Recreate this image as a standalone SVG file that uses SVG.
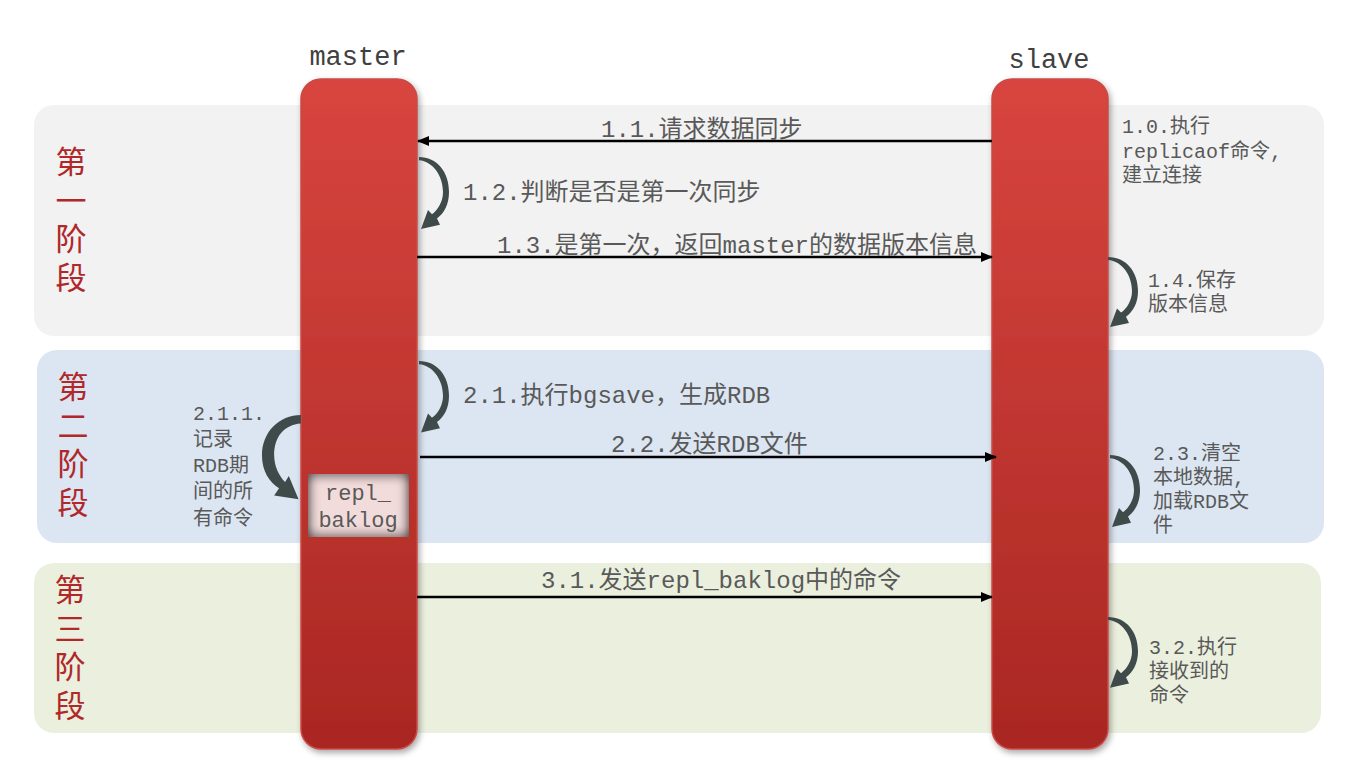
<svg xmlns="http://www.w3.org/2000/svg" width="1366" height="764" viewBox="0 0 1366 764">
<defs>
<style>
.band{stroke:none}
.phase{font-family:"Noto Sans CJK SC",sans-serif;font-size:31px;fill:#b0282a;writing-mode:vertical-rl;letter-spacing:7.5px}
.title{font-family:"Liberation Mono","Noto Sans CJK SC",monospace;font-size:27px;fill:#404040;text-anchor:middle}
.lbl{font-family:"Liberation Mono","Noto Sans CJK SC",monospace;font-size:24px;fill:#595959}
.note{font-family:"Liberation Mono","Noto Sans CJK SC",monospace;font-size:20px;fill:#595959}
.box{font-family:"Liberation Mono","Noto Sans CJK SC",monospace;font-size:22px;fill:#595959;text-anchor:middle}
.bar{fill:url(#barGrad);stroke:#c94a46;stroke-width:1.5;filter:url(#shadow)}
.conn{stroke:#000;stroke-width:2.5;fill:none}
.curve{fill:#3f4a4a}
</style>
<linearGradient id="barGrad" x1="0" y1="0" x2="0" y2="1">
<stop offset="0" stop-color="#d8453f"/>
<stop offset="1" stop-color="#a92722"/>
</linearGradient>
<filter id="shadow" x="-20%" y="-5%" width="140%" height="110%">
<feDropShadow dx="2" dy="3" stdDeviation="3" flood-color="#000" flood-opacity="0.35"/>
</filter>
<filter id="inner" x="-10%" y="-10%" width="120%" height="120%">
<feFlood flood-color="#2e2424" result="f"/>
<feComposite in="f" in2="SourceAlpha" operator="out" result="o"/>
<feGaussianBlur in="o" stdDeviation="6" result="b"/>
<feComposite in="b" in2="SourceAlpha" operator="in" result="s"/>
<feMerge><feMergeNode in="SourceGraphic"/><feMergeNode in="s"/><feMergeNode in="s"/></feMerge>
</filter>
<marker id="ah" viewBox="0 0 12 10" refX="11" refY="5" markerWidth="12" markerHeight="10" markerUnits="userSpaceOnUse" orient="auto">
<path d="M0,0 L12,5 L0,10 Z" fill="#000"/>
</marker>
<path id="crv" d="M0,0 C18,0 30,14 30,33 C30,45 25,53 18,58 L21,64 L2,68 L9,50 L13,54 C19,50 24,42 24,33 C24,18 14,4 0,3 Z"/>
<path id="crvThick" d="M0,0 C18,0 32,14 32,33 C32,46 26,55 18,60 L22,66 L2,69 L10,50 L13,55 C18,50 22,42 22,33 C22,18 14,8 0,7 Z"/>
</defs>

<g id="bands">
<rect id="band1" class="band" x="34" y="105" width="1290" height="231" rx="20" fill="#f2f2f2"/>
<rect id="band2" class="band" x="37" y="350" width="1287" height="193" rx="20" fill="#dce6f2"/>
<rect id="band3" class="band" x="34" y="563" width="1287" height="170" rx="20" fill="#ebf0de"/>
</g>

<g id="phase1">
<text class="phase" x="71" y="146">第一阶段</text>
</g>
<g id="phase2">
<text class="phase" x="73" y="371">第二阶段</text>
</g>
<g id="phase3">
<text class="phase" x="70" y="574">第三阶段</text>
</g>

<g id="master">
<text class="title" x="358" y="65">master</text>
<rect class="bar" x="301" y="79" width="116" height="670" rx="20"/>
</g>
<g id="slave">
<text class="title" x="1049" y="68">slave</text>
<rect class="bar" x="992" y="79" width="116" height="670" rx="20"/>
</g>

<g id="repl_baklog">
<rect x="308" y="474" width="101" height="63" fill="#f2dcdb" filter="url(#inner)"/>
<text class="box" x="358" y="500">repl_</text>
<text class="box" x="358" y="527">baklog</text>
</g>

<g id="connectors">
<line class="conn" x1="992" y1="141" x2="418" y2="141" marker-end="url(#ah)"/>
<line class="conn" x1="417" y1="257" x2="992" y2="257" marker-end="url(#ah)"/>
<line class="conn" x1="420" y1="457" x2="996" y2="457" marker-end="url(#ah)"/>
<line class="conn" x1="417" y1="597" x2="992" y2="597" marker-end="url(#ah)"/>
<use href="#crv" class="curve" transform="translate(419,157) scale(1,1.06)"/>
<use href="#crv" class="curve" transform="translate(1108,257) scale(1,1.03)"/>
<use href="#crv" class="curve" transform="translate(419,361) scale(1,1.05)"/>
<use href="#crv" class="curve" transform="translate(1110,455) scale(1,1.06)"/>
<use href="#crv" class="curve" transform="translate(1108,617) scale(1,1.04)"/>
<use href="#crvThick" class="curve" transform="translate(301,415) scale(-1.22,1.22)"/>
</g>

<g id="labels">
<text class="lbl" x="601" y="137">1.1.请求数据同步</text>
<text class="lbl" x="463" y="200">1.2.判断是否是第一次同步</text>
<text class="lbl" x="497" y="253">1.3.是第一次，返回master的数据版本信息</text>
<text class="lbl" x="463" y="403">2.1.执行bgsave，生成RDB</text>
<text class="lbl" x="611" y="452">2.2.发送RDB文件</text>
<text class="lbl" x="541" y="588">3.1.发送repl_baklog中的命令</text>
</g>

<g id="notes">
<text class="note" x="1122" y="133">1.0.执行</text>
<text class="note" x="1122" y="158">replicaof命令,</text>
<text class="note" x="1122" y="182">建立连接</text>
<text class="note" x="1148" y="287">1.4.保存</text>
<text class="note" x="1148" y="311">版本信息</text>
<text class="note" x="1153" y="460">2.3.清空</text>
<text class="note" x="1153" y="484">本地数据,</text>
<text class="note" x="1153" y="508">加载RDB文</text>
<text class="note" x="1153" y="532">件</text>
<text class="note" x="1149" y="654">3.2.执行</text>
<text class="note" x="1149" y="678">接收到的</text>
<text class="note" x="1149" y="702">命令</text>
<text class="note" x="193" y="420">2.1.1.</text>
<text class="note" x="193" y="446">记录</text>
<text class="note" x="193" y="472">RDB期</text>
<text class="note" x="193" y="498">间的所</text>
<text class="note" x="193" y="525">有命令</text>
</g>
</svg>
